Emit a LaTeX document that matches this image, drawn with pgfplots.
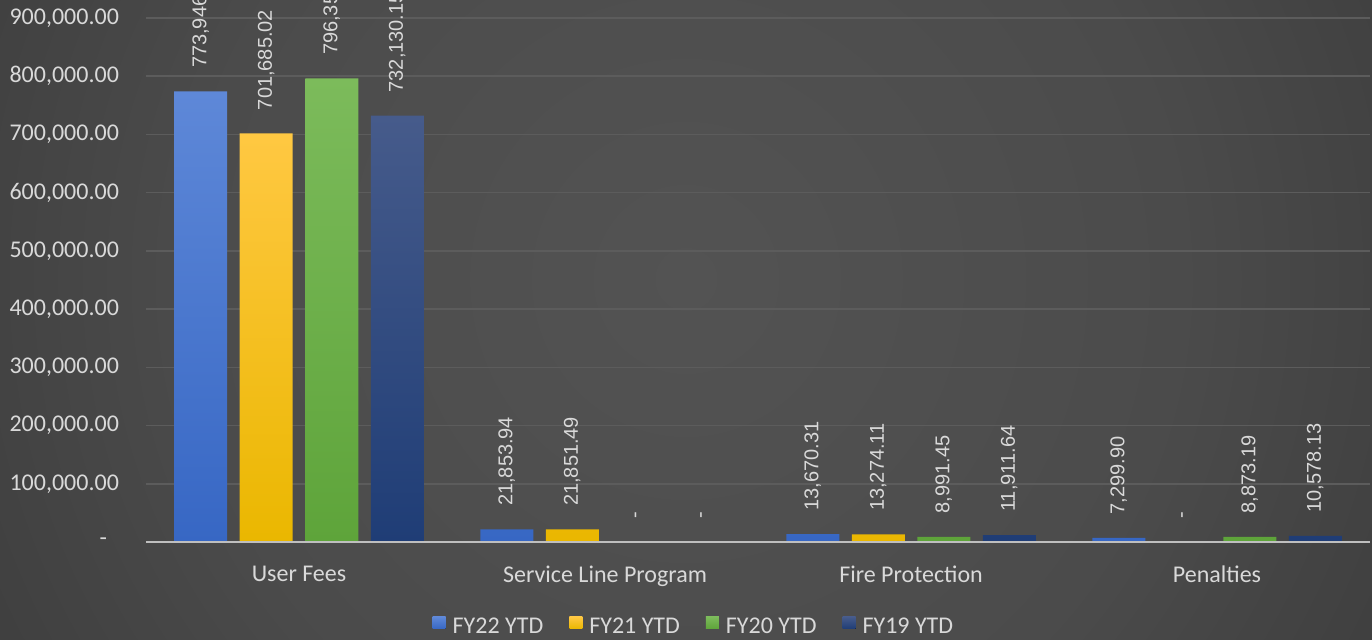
\documentclass[border=0pt]{standalone}
\usepackage{pgfplots}
\pgfplotsset{compat=1.18}
\usepackage{pgfplotstable}
\usepackage{fontspec}
\setmainfont{Carlito}
\newfontfamily\arialf{Liberation Sans}
\definecolor{bgin}{HTML}{535353}
\definecolor{bgmid}{HTML}{4B4B4B}
\definecolor{bgout}{HTML}{272727}
\definecolor{gridc}{HTML}{5C5C5C}
\definecolor{basec}{HTML}{BFBFBF}
\definecolor{lbl}{HTML}{D9D9D9}
\definecolor{c22t}{HTML}{5E88D8}
\definecolor{c22b}{HTML}{3767C4}
\definecolor{c21t}{HTML}{FFC842}
\definecolor{c21b}{HTML}{EAB700}
\definecolor{c20t}{HTML}{7CBB5B}
\definecolor{c20b}{HTML}{5EA43A}
\definecolor{c19t}{HTML}{465B8B}
\definecolor{c19b}{HTML}{1F3D76}
\pgfdeclareradialshading{bgshade}{\pgfpoint{0bp}{0bp}}{color(0bp)=(bgin); color(18bp)=(bgmid); color(50bp)=(bgout); color(80bp)=(bgout)}

\pgfplotstableread{
x y lab
0 773946.52 773,946.52
1 21853.94 21,853.94
2 13670.31 13,670.31
3 7299.90 7,299.90
}\tabA
\pgfplotstableread{
x y lab
0 701685.02 701,685.02
1 21851.49 21,851.49
2 13274.11 13,274.11
3 0 -
}\tabB
\pgfplotstableread{
x y lab
0 796354.27 796,354.27
1 0 -
2 8991.45 8,991.45
3 8873.19 8,873.19
}\tabC
\pgfplotstableread{
x y lab
0 732130.15 732,130.15
1 0 -
2 11911.64 11,911.64
3 10578.13 10,578.13
}\tabD

\begin{document}
\begin{tikzpicture}
\clip (0,0) rectangle (686pt,319.5pt);
\shade[shading=bgshade] (0,-170pt) rectangle (686pt,530pt);
\begin{axis}[
  at={(73pt,48.5pt)}, anchor=south west,
  width=612pt, height=262pt, scale only axis,
  xmin=-0.5, xmax=3.5, ymin=0, ymax=900000,
  ybar=6.25pt, bar width=26.5pt,
  axis line style={draw=none},
  major tick length=0pt,
  ytick={0,100000,200000,300000,400000,500000,600000,700000,800000,900000},
  yticklabels={{-\hspace*{6pt}},{100,000.00},{200,000.00},{300,000.00},{400,000.00},{500,000.00},{600,000.00},{700,000.00},{800,000.00},{900,000.00}},
  scaled y ticks=false,
  ymajorgrids, major grid style={color=gridc, line width=0.8pt},
  xtick={0,1,2,3},
  xticklabels={User Fees, Service Line Program, Fire Protection, Penalties},
  tick label style={font=\fontsize{12}{14}\selectfont, text=lbl},
  yticklabel style={xshift=-10pt},
  xticklabel style={yshift=-8.5pt},
  clip=false,
  point meta=explicit symbolic,
  nodes near coords,
  every node near coord/.append style={rotate=90, anchor=west, inner xsep=11.5pt, inner ysep=0pt, font=\arialf\fontsize{10}{12}\selectfont, text=lbl},
  legend style={at={(0.4485,-0.162)}, anchor=center, legend columns=-1, draw=none, fill=none, text=lbl, font=\fontsize{12}{14}\selectfont, /tikz/every even column/.append style={column sep=11pt}},
  legend image code/.code={\fill[#1] (0pt,-1pt) rectangle (6.5pt,5pt); \path (8pt,2pt);},
]
\addplot[draw=none, top color=c22t, bottom color=c22b] table[x=x,y=y,meta=lab]{\tabA};
\addplot[draw=none, top color=c21t, bottom color=c21b] table[x=x,y=y,meta=lab]{\tabB};
\addplot[draw=none, top color=c20t, bottom color=c20b] table[x=x,y=y,meta=lab]{\tabC};
\addplot[draw=none, top color=c19t, bottom color=c19b] table[x=x,y=y,meta=lab]{\tabD};
\legend{FY22 YTD, FY21 YTD, FY20 YTD, FY19 YTD}
\draw[basec, line width=1.2pt] (axis cs:-0.5,0) -- (axis cs:3.5,0);
\end{axis}
\end{tikzpicture}
\end{document}
